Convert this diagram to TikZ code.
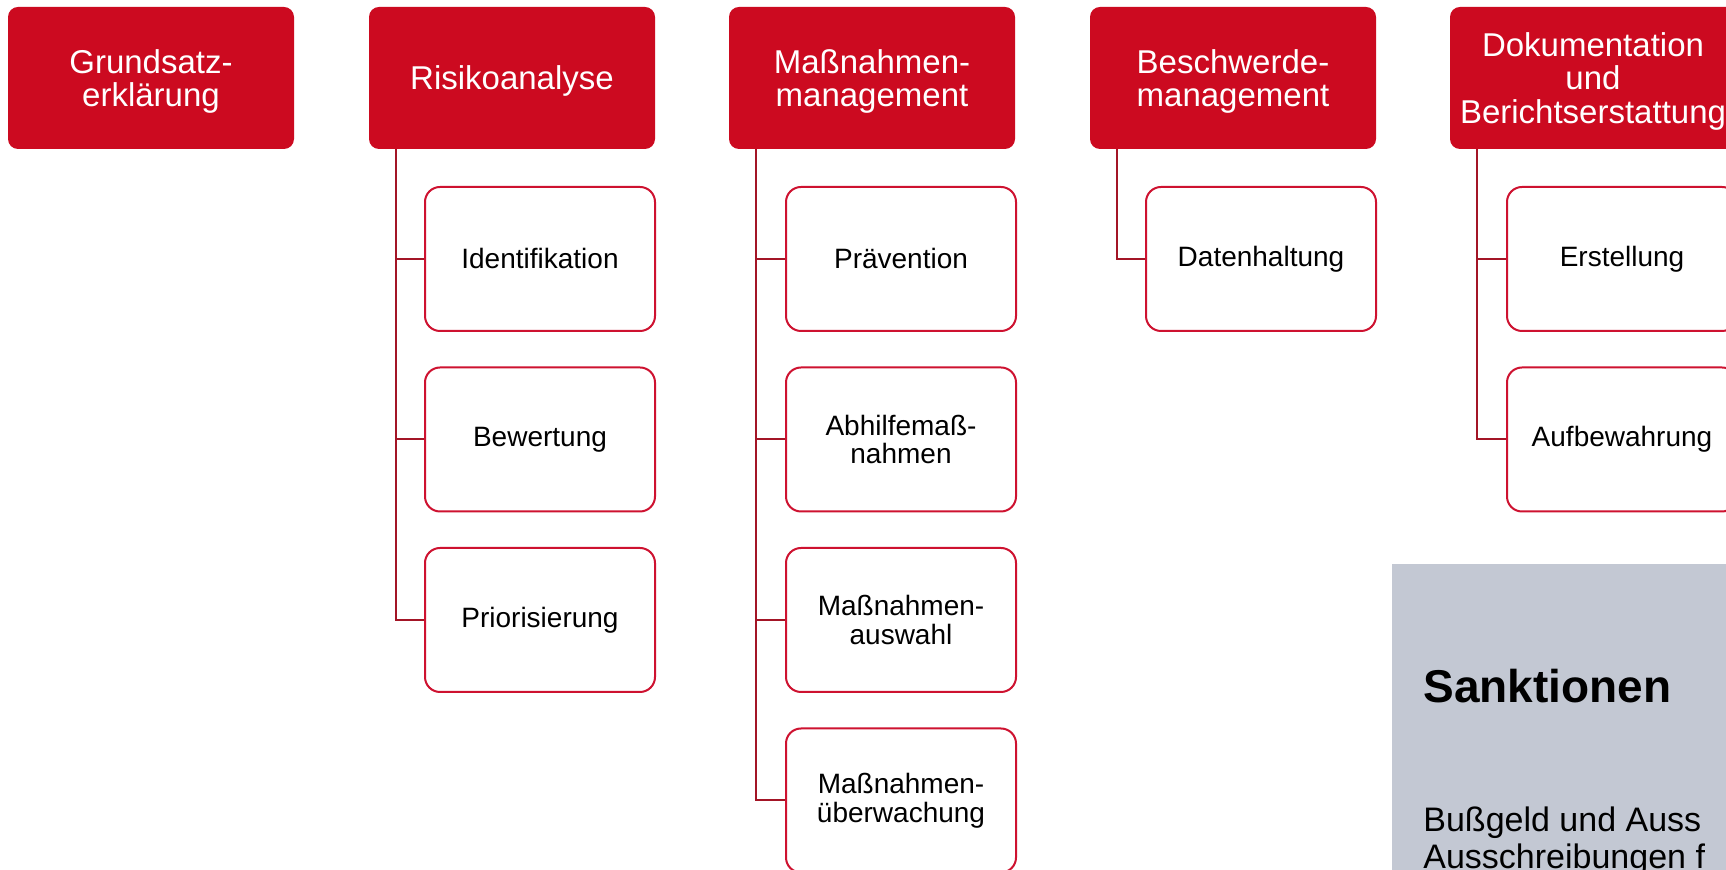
\documentclass[tikz,border=0pt]{standalone}
\usepackage{fontspec}
\setmainfont{Liberation Sans}
\definecolor{hdr}{HTML}{CC0A20}
\definecolor{bord}{HTML}{CE1230}
\definecolor{connc}{HTML}{A31526}
\definecolor{greybox}{HTML}{C3C8D3}
\begin{document}
\begin{tikzpicture}[x=0.5pt,y=-0.5pt,
  head/.style={fill=hdr, draw=none, rounded corners=5pt, minimum width=143pt, minimum height=71pt, inner sep=0pt},
  headtext/.style={text=white, align=center, font=\fontsize{16.5pt}{16.8pt}\selectfont, inner sep=0pt},
  child/.style={fill=white, draw=bord, line width=1pt, rounded corners=7.5pt, minimum width=115pt,
    minimum height=72pt, align=center, font=\fontsize{14pt}{14.3pt}\selectfont, inner sep=0pt},
  conn/.style={draw=connc, line width=1pt}]
\clip (0,0) rectangle (1726,870);
\fill[white] (0,0) rectangle (1726,870);

% grey box
\fill[greybox] (1392,564) rectangle (1800,900);
\node[anchor=base west, inner sep=0pt, font=\fontsize{23pt}{26pt}\selectfont\bfseries] (sank) at (1423,703) {Sanktionen};
\node[anchor=base west, inner sep=0pt, font=\fontsize{17pt}{20pt}\selectfont] (buss1) at (1423,832) {Bußgeld und Auss};
\node[anchor=base west, inner sep=0pt, font=\fontsize{17pt}{20pt}\selectfont] (buss2) at (1423,869) {Ausschreibungen f};

% headers
\node[head] (h1) at (151,78) {};
\node[head] (h2) at (512,78) {};
\node[head] (h3) at (872,78) {};
\node[head] (h4) at (1233,78) {};
\node[head] (h5) at (1593,78) {};
\node[headtext] (t1) at ([yshift=-1.7pt]h1.center) {Grundsatz-\\erklärung};
\node[headtext] (t2) at ([yshift=-1.7pt]h2.center) {Risikoanalyse};
\node[headtext] (t3) at ([yshift=-1.7pt]h3.center) {Maßnahmen-\\management};
\node[headtext] (t4) at ([yshift=-1.7pt]h4.center) {Beschwerde-\\management};
\node[headtext] (t5) at ([yshift=-1.7pt]h5.center) {Dokumentation\\und\\Berichtserstattung};

% children
\node[child] (c21) at (540,259) {Identifikation};
\node[child] (c22) at (540,439.5) {Bewertung};
\node[child] (c23) at (540,620) {Priorisierung};

\node[child] (c31) at (901,259) {Prävention};
\node[child] (c32) at (901,439.5) {Abhilfemaß-\\nahmen};
\node[child] (c33) at (901,620) {Maßnahmen-\\auswahl};
\node[child] (c34) at (901,800.5) {Maßnahmen-\\überwachung};

\node[child] (c41) at (1261,259) {Datenhaltung};

\node[child] (c51) at (1622,259) {Erstellung};
\node[child] (c52) at (1622,439.5) {Aufbewahrung};

% connectors
\foreach \h/\c in {h2/c21,h2/c22,h2/c23,h3/c31,h3/c32,h3/c33,h3/c34,h4/c41,h5/c51,h5/c52}{
  \draw[conn] ([xshift=13.5pt]\h.south west) |- (\c.west);
}
\end{tikzpicture}
\end{document}
